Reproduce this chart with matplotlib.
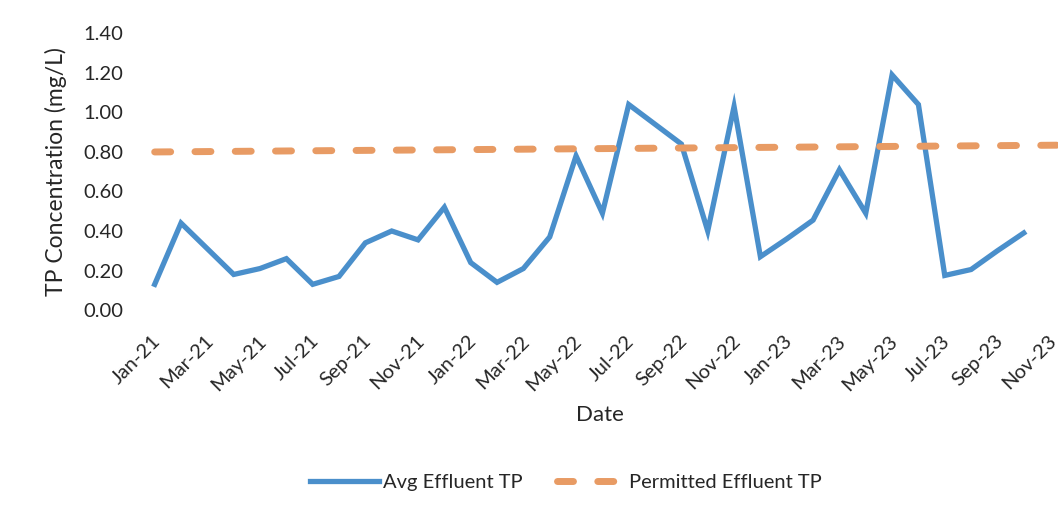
"""Monthly average effluent total phosphorus vs. the permitted limit."""

import matplotlib
matplotlib.use("Agg")
import matplotlib.pyplot as plt
import matplotlib.transforms as mtransforms
import numpy as np
import pandas as pd

plt.rcParams["font.family"] = ["Lato", "DejaVu Sans"]

# Monthly averages, Jan-21 .. Oct-23 (mg/L)
avg_tp = [0.13, 0.44, 0.31, 0.18, 0.21, 0.26, 0.13, 0.17, 0.34, 0.40,
          0.355, 0.52, 0.24, 0.14, 0.21, 0.37, 0.78, 0.49, 1.04, 0.94,
          0.84, 0.40, 1.03, 0.27, 0.36, 0.455, 0.71, 0.49, 1.19, 1.04,
          0.175, 0.205, 0.30, 0.39]

# Permit limit, Jan-21 .. Dec-23 (mg/L)
permit_tp = [0.800, 0.801, 0.802, 0.803, 0.804, 0.805, 0.806, 0.807, 0.808,
             0.809, 0.810, 0.811, 0.812, 0.813, 0.814, 0.815, 0.816, 0.817,
             0.818, 0.819, 0.820, 0.821, 0.822, 0.823, 0.824, 0.825, 0.826,
             0.827, 0.828, 0.829, 0.830, 0.831, 0.832, 0.833, 0.834, 0.835]

months = pd.date_range("2021-01-01", "2023-12-01", freq="MS")
tick_labels = [m.strftime("%b-%y") for m in months]

BLUE = "#4a8fcb"
ORANGE = "#e89b64"
TXT = "#262626"

fig = plt.figure(figsize=(10.58, 5.18), dpi=100)
ax = fig.add_axes([0.135, 0.4015, 0.865, 0.534])

x_avg = np.arange(len(avg_tp))
x_permit = np.arange(len(permit_tp))

ax.plot(x_avg, avg_tp, color=BLUE, linewidth=3.8,
        solid_joinstyle="miter", label="Avg Effluent TP")
ax.plot(x_permit, permit_tp, color=ORANGE, linewidth=5,
        linestyle=(0, (2.3, 3.5)), dash_capstyle="round",
        label="Permitted Effluent TP")

ax.set_ylim(0, 1.4)
ax.set_xlim(-0.45, 34.3)
yticks = np.arange(0, 1.41, 0.2)
ax.set_yticks(yticks)
ax.set_yticklabels([f"{v:.2f}" for v in yticks])

tick_pos = np.arange(0, 35, 2)
ax.set_xticks(tick_pos)
ax.set_xticklabels([tick_labels[i] for i in tick_pos], rotation=45,
                   ha="right", rotation_mode="anchor")

ax.tick_params(axis="both", length=0, labelsize=14.5, labelcolor=TXT)
ax.tick_params(axis="x", pad=16)
ax.tick_params(axis="y", pad=14)

# nudge the rotated date labels a little left so the last one stays inside
shift = mtransforms.ScaledTranslation(-3 / 100, 0, fig.dpi_scale_trans)
for lbl in ax.get_xticklabels():
    lbl.set_transform(lbl.get_transform() + shift)

for spine in ax.spines.values():
    spine.set_visible(False)

ax.set_ylabel("TP Concentration (mg/L)", fontsize=16.5, color=TXT, labelpad=12)
ax.set_xlabel("Date", fontsize=16, color=TXT, labelpad=8)

fig.legend(loc="center", bbox_to_anchor=(0.535, 0.068), ncol=2,
           frameon=False, fontsize=14.5, handlelength=3.4, handletextpad=0.2,
           columnspacing=1.7, labelcolor=TXT)

fig.savefig("out.png", dpi=100)
